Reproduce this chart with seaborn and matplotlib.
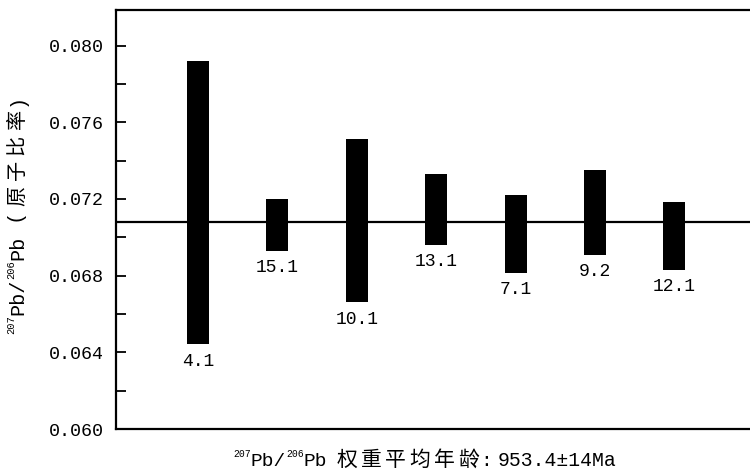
import numpy as np
import pandas as pd
import matplotlib
matplotlib.use("Agg")
import matplotlib.pyplot as plt
from matplotlib.ticker import MultipleLocator, FormatStrFormatter, NullLocator
import seaborn as sns

# Spot names and the upper / lower limits of each 207Pb/206Pb error bar
spots = ["4.1", "15.1", "10.1", "13.1", "7.1", "9.2", "12.1"]
ratio_high = [0.07920, 0.07200, 0.07513, 0.07329, 0.07221, 0.07352, 0.07183]
ratio_low = [0.06442, 0.06929, 0.06661, 0.06962, 0.06816, 0.06907, 0.06832]
weighted_mean = 0.0708

W, H = 750, 472
sns.set_theme(style="white")
MONO = ["Liberation Mono", "DejaVu Sans Mono"]
CJK = ["Noto Sans CJK SC", "DejaVu Sans"]
plt.rcParams["font.family"] = MONO

df = pd.DataFrame({
    "pos": np.arange(1, len(spots) + 1),
    "span": np.subtract(ratio_high, ratio_low),
    "low": ratio_low,
})

fig = plt.figure(figsize=(W / 100, H / 100), dpi=100)
ax = fig.add_axes([115.7 / W, 1 - 429 / H, 1 - 115.7 / W, (429 - 10) / H])

sns.barplot(data=df, x="pos", y="span", bottom=list(df["low"]), native_scale=True,
            width=0.277, color="black", saturation=1, linewidth=0, ax=ax)

ax.axhline(weighted_mean, color="black", lw=1.6, zorder=1)

for p, lo, name in zip(df["pos"], df["low"], spots):
    ax.annotate(name, (p, lo), xytext=(0, -6), textcoords="offset points",
                ha="center", va="top", fontsize=13, color="black")

ax.set_xlim(-0.0365, 7.952)
ax.set_ylim(0.060, 0.08186)
ax.set_xlabel("")
ax.set_ylabel("")
ax.xaxis.set_major_locator(NullLocator())
ax.yaxis.set_major_locator(MultipleLocator(0.004))
ax.yaxis.set_minor_locator(MultipleLocator(0.002))
ax.yaxis.set_major_formatter(FormatStrFormatter("%.3f"))
ax.tick_params(axis="y", which="both", direction="in", length=7, width=1.3,
               left=True, pad=8.4, labelsize=13.2, colors="black")
ax.grid(False)

for side in ["left", "top", "bottom"]:
    ax.spines[side].set_visible(True)
    ax.spines[side].set_color("black")
    ax.spines[side].set_linewidth(1.6)
ax.spines["right"].set_visible(False)


def sup(s, size=7):
    return (s, dict(fontsize=size, family=MONO), 6.5, 0.0)


def run(s, size=14, fam=MONO, gap=0.0):
    return (s, dict(fontsize=size, family=fam), 0.0, gap)


def text_run(x_px, y_px, parts, vertical=False):
    """Lay out text pieces one after another along a shared baseline."""
    xf, yf = x_px / W, 1 - y_px / H
    prev = None
    for s, kw, rise, gap in parts:
        common = dict(ha="left", va="baseline", color="black",
                      annotation_clip=False, textcoords="offset points", **kw)
        if vertical:
            common.update(rotation=90, rotation_mode="anchor")
            if prev is None:
                xy, xyc = (xf, yf), "figure fraction"
            else:
                xy, xyc = (xf, 1), ("figure fraction", prev)
            t = ax.annotate(s, xy=xy, xycoords=xyc, xytext=(-rise, gap), **common)
        else:
            if prev is None:
                xy, xyc = (xf, yf), "figure fraction"
            else:
                xy, xyc = (1, yf), (prev, "figure fraction")
            t = ax.annotate(s, xy=xy, xycoords=xyc, xytext=(gap, rise), **common)
        prev = t
    return prev


xlabel_parts = [sup("207"), run("Pb/"), sup("206"), run("Pb")]
for i, ch in enumerate("权重平均年龄"):
    xlabel_parts.append(run(ch, 15, CJK, 7.0 if i == 0 else 2.5))
xlabel_parts += [run(":", 14, MONO, 0.5), run("953.4±14Ma", 14.2, MONO, 4.5)]
text_run(233, 466, xlabel_parts)

ylabel_parts = [sup("207", 7.5), run("Pb/", 14.5), sup("206", 7.5), run("Pb", 14.5),
                run(" (", 14.5)]
for ch in "原子比率":
    ylabel_parts.append(run(ch, 14.5, CJK, 4.0))
ylabel_parts.append(run(")", 14.5, MONO, 2.0))
text_run(23, 334, ylabel_parts, vertical=True)

fig.savefig("out.png", dpi=100)
